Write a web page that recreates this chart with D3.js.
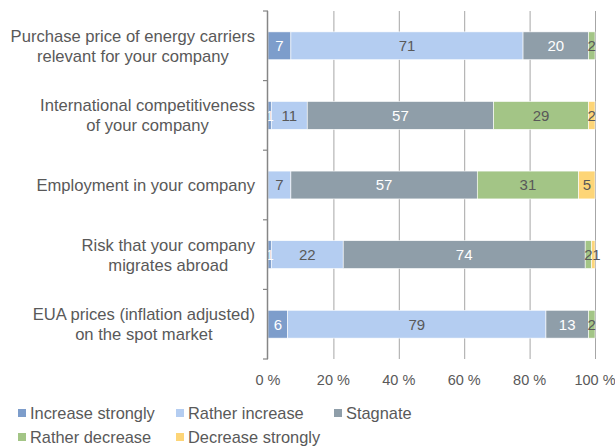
<!DOCTYPE html>
<html>
<head>
<meta charset="utf-8">
<script src="https://cdn.jsdelivr.net/npm/d3@7"></script>
<style>
  body { margin: 0; background: #fff; }
  text { font-family: "Liberation Sans", Arial, sans-serif; fill: #595959; }
</style>
</head>
<body>
<div id="chart"></div>
<script>
// categories, top to bottom
var categories = [
  ["Purchase price of energy carriers", "relevant for your company"],
  ["International competitiveness", "of your company"],
  ["Employment in your company"],
  ["Risk that your company", "migrates abroad"],
  ["EUA prices (inflation adjusted)", "on the spot market"]
];
var seriesNames = ["Increase strongly", "Rather increase", "Stagnate", "Rather decrease", "Decrease strongly"];
var increaseStrongly = [7, 1, 0, 1, 6];
var ratherIncrease   = [71, 11, 7, 22, 79];
var stagnate         = [20, 57, 57, 74, 13];
var ratherDecrease   = [2, 29, 31, 2, 2];
var decreaseStrongly = [0, 2, 5, 1, 0];
var tickValues = [0, 20, 40, 60, 80, 100];

var colors = ["#7d9dcb", "#b4cdf1", "#8f9ea9", "#a3c586", "#fdd577"];
var labelColors = ["#ffffff", "#595959", "#ffffff", "#595959", "#595959"];

var width = 615, height = 446;
var margin = {top: 11, left: 268, right: 20, bottom: 87};
var plotW = 595 - margin.left, plotH = 359 - margin.top;

var rows = categories.map(function(c, i) {
  return {
    idx: i,
    "Increase strongly": increaseStrongly[i],
    "Rather increase": ratherIncrease[i],
    "Stagnate": stagnate[i],
    "Rather decrease": ratherDecrease[i],
    "Decrease strongly": decreaseStrongly[i]
  };
});

var svg = d3.select("#chart")
  .append("svg")
    .attr("width", width)
    .attr("height", height);

var g = svg.append("g")
  .attr("transform", "translate(" + margin.left + "," + margin.top + ")");

var x = d3.scaleLinear().domain([0, 100]).range([0, plotW]);
var y = d3.scaleBand().domain(d3.range(categories.length)).range([0, plotH]).paddingInner(0.6).paddingOuter(0.3);

// vertical gridlines
g.selectAll(".grid")
  .data(tickValues.slice(1))
  .enter().append("line")
    .attr("x1", function(d) { return x(d) + 0.5; })
    .attr("x2", function(d) { return x(d) + 0.5; })
    .attr("y1", 0)
    .attr("y2", plotH)
    .attr("stroke", "#a6a6a6")
    .attr("stroke-width", 1);

// stacked bars
var stack = d3.stack().keys(seriesNames);
var layers = stack(rows);

var layer = g.selectAll(".layer")
  .data(layers)
  .enter().append("g")
    .attr("fill", function(d, i) { return colors[i]; });

layer.selectAll("rect")
  .data(function(d) { return d; })
  .enter().append("rect")
    .attr("x", function(d) { return x(d[0]); })
    .attr("width", function(d) { return x(d[1]) - x(d[0]); })
    .attr("y", function(d) { return y(d.data.idx); })
    .attr("height", y.bandwidth())
    .attr("stroke", "#ffffff")
    .attr("stroke-width", 0.6);

// value labels (a tiny last segment gets its label nudged right, as in the original)
layers.forEach(function(L, si) {
  g.selectAll(".lab" + si)
    .data(L.filter(function(d) { return d[1] - d[0] > 0; }))
    .enter().append("text")
      .attr("x", function(d) {
        var cx = x((d[0] + d[1]) / 2);
        return (si === 4 && d[1] - d[0] < 2) ? cx + 3 : cx;
      })
      .attr("y", function(d) { return y(d.data.idx) + y.bandwidth() / 2; })
      .attr("dy", "0.36em")
      .attr("text-anchor", "middle")
      .style("font-size", "15px")
      .style("fill", labelColors[si])
      .text(function(d) { return d[1] - d[0]; });
});

// left axis line and ticks
g.append("line")
  .attr("x1", -0.5).attr("x2", -0.5)
  .attr("y1", 0).attr("y2", plotH)
  .attr("stroke", "#868686").attr("stroke-width", 1.5);

var bounds = d3.range(categories.length + 1).map(function(i) { return i * y.step(); });
g.selectAll(".ytick")
  .data(bounds)
  .enter().append("line")
    .attr("x1", -5).attr("x2", 0)
    .attr("y1", function(d) { return d; })
    .attr("y2", function(d) { return d; })
    .attr("stroke", "#868686").attr("stroke-width", 1.2);

// bottom tick labels
g.selectAll(".xlab")
  .data(tickValues)
  .enter().append("text")
    .attr("x", function(d) { return x(d); })
    .attr("y", plotH + 21)
    .attr("dy", "0.36em")
    .attr("text-anchor", "middle")
    .style("font-size", "14.5px")
    .text(function(d) { return d + " %"; });

// category labels: block right-aligned, lines centred
categories.forEach(function(lines, i) {
  var cy = y(i) + y.bandwidth() / 2;
  var grp = g.append("g");
  var texts = lines.map(function(line, k) {
    return grp.append("text")
      .attr("y", cy + (k - (lines.length - 1) / 2) * 20)
      .attr("dy", "0.36em")
      .attr("text-anchor", "middle")
      .style("font-size", "16.6px")
      .text(line);
  });
  var maxW = d3.max(texts, function(t) { return t.node().getComputedTextLength(); });
  texts.forEach(function(t) { t.attr("x", -13 - maxW / 2); });
});

// legend
var legendPos = [[18, 413], [176, 413], [334, 413], [18, 437], [176, 437]];
var legend = svg.selectAll(".legend")
  .data(seriesNames)
  .enter().append("g")
    .attr("transform", function(d, i) { return "translate(" + legendPos[i][0] + "," + legendPos[i][1] + ")"; });

legend.append("rect")
  .attr("x", 0).attr("y", -4)
  .attr("width", 8).attr("height", 8)
  .attr("fill", function(d, i) { return colors[i]; });

legend.append("text")
  .attr("x", 12)
  .attr("dy", "0.36em")
  .style("font-size", "16.4px")
  .text(function(d) { return d; });
</script>
</body>
</html>
